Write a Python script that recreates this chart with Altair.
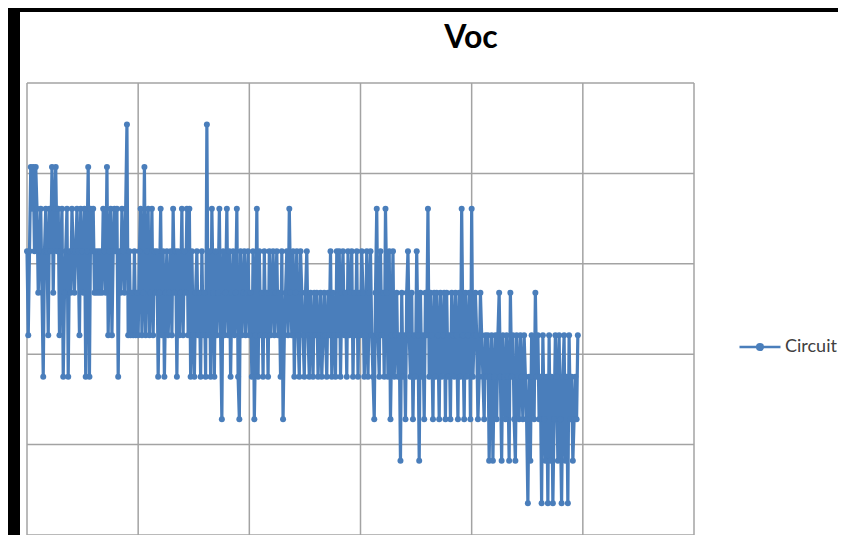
import altair as alt
import pandas as pd

# Quantised Voc levels (grid units: 0..5, gridline every 1)
levels = [0.35, 0.82, 1.28, 1.75, 2.21, 2.68, 3.14, 3.61, 4.07, 4.54]

# Sample-by-sample level index
codes = [
    6,4,6,8,7,8,6,8, 7,5,6,7,5,3,6,7, 6,4,7,6,8,5,7,8, 6,7,4,6,7,3,5,6,
    7,3,6,5,7,6,5,6, 7,6,4,7,6,5,7,3, 6,8,3,7,6,7,5,6, 5,6,5,6,5,7,6,5,
    8,4,6,7,4,6,7,6, 7,3,6,5,7,6,5,7, 9,4,6,4,5,4,6,4, 5,4,6,7,4,5,8,4,
    6,7,4,5,7,4,6,5, 6,3,5,7,4,6,3,5, 6,4,5,6,4,7,5,6, 3,6,4,5,7,4,6,5,
    7,4,7,3,6,4,3,5, 6,4,5,3,6,4,5,3, 9,4,6,3,7,5,3,6, 4,5,7,4,2,6,4,5,
    7,4,6,3,5,6,4,5, 7,3,2,6,4,5,6,4, 5,6,4,5,3,6,2,4, 7,3,6,4,5,3,6,4,
    5,3,6,4,5,6,4,5, 6,4,5,3,6,2,4,5, 6,4,7,5,4,6,3,5, 6,4,3,6,5,4,3,5,
    6,4,3,5,4,3,5,4, 5,3,4,5,3,4,5,4, 3,5,4,6,3,5,4,3, 6,4,6,3,5,6,4,5,
    3,6,4,5,6,3,5,4, 6,3,5,4,6,5,3,4, 6,3,5,6,4,3,2,5, 7,4,3,6,4,5,3,7,
    5,3,6,2,4,6,3,4, 5,3,4,1,5,3,4,2, 5,6,4,3,5,2,4,3, 6,4,1,5,3,4,2,5,
    4,7,3,5,4,2,5,3, 5,4,2,5,3,4,5,2, 5,3,4,2,5,4,3,5, 4,2,5,3,7,4,2,5,
    3,4,5,2,7,3,4,5, 4,2,3,5,4,3,2,4, 3,4,1,3,4,1,3,4, 2,4,5,3,1,4,3,2,
    4,3,1,5,3,4,2,1, 4,3,2,4,3,2,4,3, 2,0,3,1,4,3,2,5, 3,4,2,3,0,4,2,1,
    3,0,4,1,3,0,2,4, 3,1,4,2,0,3,4,1, 3,0,4,2,3,1,2,3, 2,4,
]

series_name = "Circuit"
x_grid = [0, 89, 178, 267, 356, 445, 534]
y_grid = [0, 1, 2, 3, 4, 5]

df = pd.DataFrame({
    "sample": list(range(len(codes))),
    "voc": [levels[c] for c in codes],
    "series": [series_name] * len(codes),
})
gx = pd.DataFrame({"gx": x_grid})
gy = pd.DataFrame({"gy": y_grid})

xs = alt.Scale(domain=[x_grid[0], x_grid[-1]], nice=False, zero=False)
ys = alt.Scale(domain=[y_grid[0], y_grid[-1]], nice=False, zero=False)
noaxis = None

blue = "#4A7EBB"
gridc = "#A3A3A3"

bg = alt.Chart(pd.DataFrame({"a": [0]})).mark_rect(color="white").encode(
    x=alt.value(-7), x2=alt.value(811), y=alt.value(-71), y2=alt.value(452)
)

vrules = alt.Chart(gx).mark_rule(color=gridc, strokeWidth=1.5).encode(
    x=alt.X("gx:Q", scale=xs, axis=noaxis)
)
hrules = alt.Chart(gy).mark_rule(color=gridc, strokeWidth=1.5).encode(
    y=alt.Y("gy:Q", scale=ys, axis=noaxis)
)

line = alt.Chart(df).mark_line(
    strokeWidth=3.2,
    point=alt.OverlayMarkDef(size=36, filled=True, opacity=1),
).encode(
    x=alt.X("sample:Q", scale=xs, axis=noaxis),
    y=alt.Y("voc:Q", scale=ys, axis=noaxis),
    color=alt.Color(
        "series:N",
        scale=alt.Scale(range=[blue]),
        legend=alt.Legend(
            title=None,
            orient="none",
            legendX=711,
            legendY=242,
            symbolType="M-1,0H1M-0.14,0A0.14,0.14,0,1,0,0.14,0A0.14,0.14,0,1,0,-0.14,0Z",
            symbolSize=1681,
            symbolStrokeWidth=2.4,
            symbolFillColor=blue,
            symbolStrokeColor=blue,
            labelFont="Lato",
            labelFontSize=18,
            labelColor="#404040",
            labelOffset=3,
        ),
    ),
)

chart = alt.layer(bg, vrules, hrules, line).properties(
    width=667,
    height=452,
    background="black",
    padding={"left": 19, "top": 75, "right": 144, "bottom": 0},
    autosize=alt.AutoSizeParams(type="none"),
    title=alt.TitleParams(
        "Voc",
        font="Lato",
        fontSize=32,
        fontWeight="bold",
        color="black",
        anchor="start",
        align="center",
        frame="group",
        dx=444,
        dy=68,
        baseline="alphabetic",
        offset=0,
    ),
).configure_view(stroke=None)

chart.save("out.html", embed_options={"renderer": "svg", "actions": False})
